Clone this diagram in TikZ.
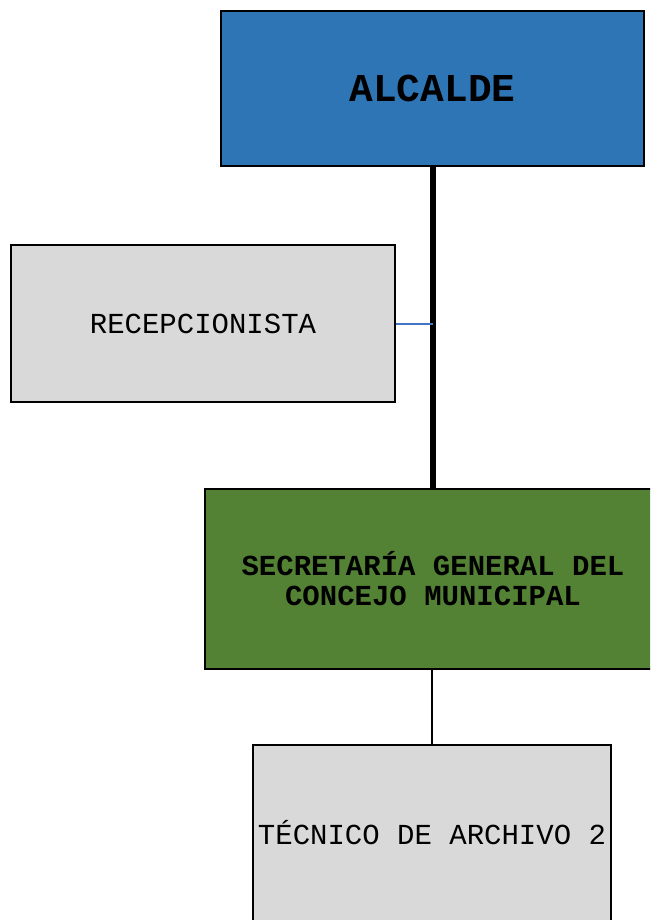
\documentclass[tikz,border=0pt]{standalone}
\usepackage{fontspec}
\setmonofont{Liberation Mono}
\definecolor{azul}{HTML}{2E75B6}
\definecolor{verde}{HTML}{548235}
\definecolor{gris}{HTML}{D9D9D9}
\definecolor{linea}{HTML}{4472C4}
\begin{document}
\begin{tikzpicture}[x=1pt,y=-1pt,
 caja/.style={draw=black, line width=2pt, align=center, inner sep=0pt,
   font=\ttfamily\fontsize{29}{30}\selectfont},
 jefe/.style={caja, fill=azul, font=\ttfamily\bfseries\fontsize{39.5}{40}\selectfont},
 unidad/.style={caja, fill=verde, font=\ttfamily\bfseries\fontsize{29}{30}\selectfont},
 cargo/.style={caja, fill=gris}]
 \useasboundingbox (0,0) rectangle (650,920);
 \clip (0,0) rectangle (650,920);
 \node[jefe, minimum width=423pt, minimum height=155pt] (alcalde) at (432.5,88.5) {ALCALDE};
 \node[cargo, minimum width=384pt, minimum height=157pt] (recep) at (203,323.5) {RECEPCIONISTA};
 \node[unidad, minimum width=456pt, minimum height=180pt] (secre) at (433,579) {SECRETARÍA GENERAL DEL\\CONCEJO MUNICIPAL};
 \node[cargo, minimum width=358pt, minimum height=176pt] (tecnico) at (432,833) {TÉCNICO DE ARCHIVO 2};
 
 \draw[line width=6pt] (alcalde.south) -- (alcalde.south |- secre.north);
 \draw[linea, line width=2pt] (recep.east) -- (alcalde.south |- recep.east);
 \draw[line width=2pt] (secre.south -| tecnico.north) -- (tecnico.north);
\end{tikzpicture}
\end{document}
